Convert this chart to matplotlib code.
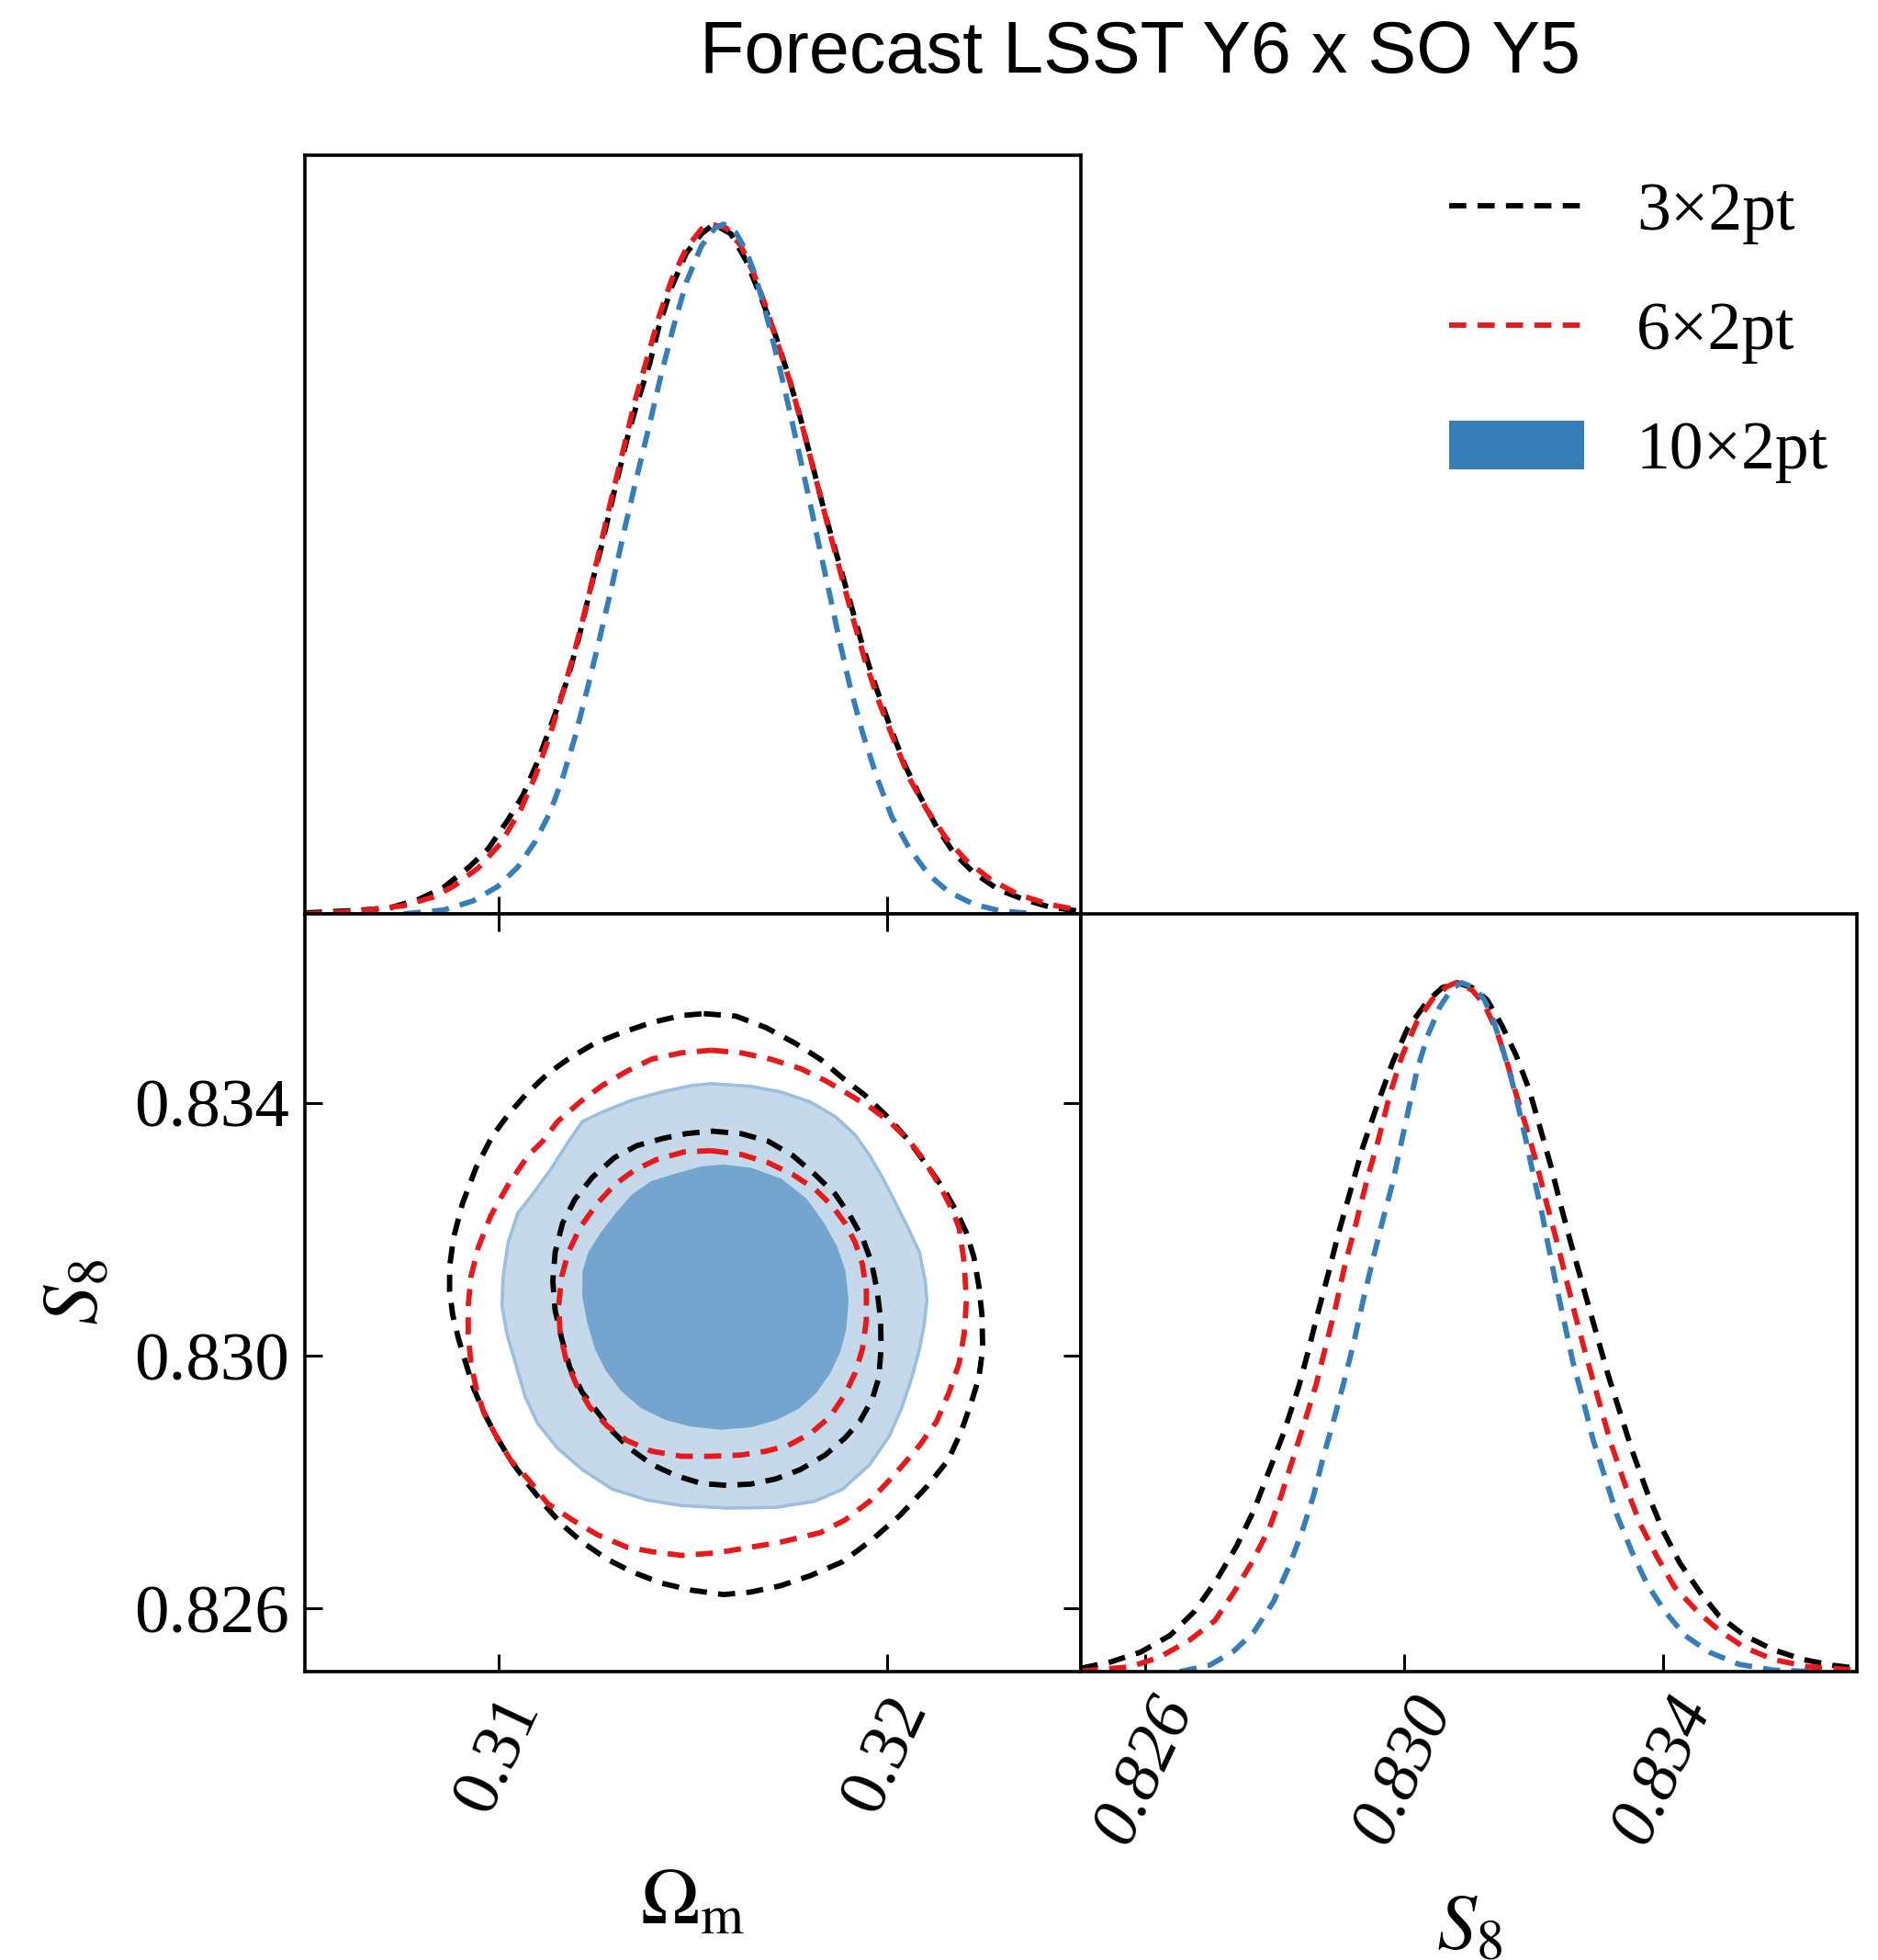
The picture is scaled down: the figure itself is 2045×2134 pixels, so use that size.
import numpy as np
import matplotlib
matplotlib.use("Agg")
import matplotlib.pyplot as plt
from matplotlib.lines import Line2D
from matplotlib.patches import Patch

plt.rcParams['font.family'] = ['Liberation Serif', 'DejaVu Serif']
plt.rcParams['mathtext.fontset'] = 'stix'

labels = ['3×2pt', '6×2pt', '10×2pt']
colors = ['black', '#e41a1c', '#377eb8']

om_ticks = [0.31, 0.32]
s8_ticks = [0.826, 0.830, 0.834]
s8_ticklabels = ['0.826', '0.830', '0.834']

# ---- 1D marginal of Omega_m (peak normalised to 1)
om_3x2_x = [0.30500, 0.30628, 0.30717, 0.30794, 0.30858, 0.30921, 0.30973, 0.31024, 0.31062, 0.31100,
            0.31139, 0.31177, 0.31209, 0.31234, 0.31266, 0.31298, 0.31330, 0.31356, 0.31388, 0.31413,
            0.31445, 0.31483, 0.31522, 0.31554, 0.31598, 0.31637, 0.31675, 0.31713, 0.31745, 0.31777,
            0.31809, 0.31841, 0.31873, 0.31905, 0.31937, 0.31969, 0.32007, 0.32045, 0.32084, 0.32128,
            0.32173, 0.32224, 0.32288, 0.32352, 0.32416, 0.32500]
om_3x2_p = [0.0014, 0.0049, 0.0084, 0.0211, 0.0386, 0.0667, 0.0947, 0.1368, 0.1719, 0.2211,
            0.2807, 0.3404, 0.4070, 0.4667, 0.5368, 0.6140, 0.6877, 0.7404, 0.7965, 0.8526,
            0.9088, 0.9579, 0.9860, 1.0000, 0.9860, 0.9474, 0.8947, 0.8386, 0.7825, 0.7193,
            0.6491, 0.5789, 0.5158, 0.4526, 0.3895, 0.3333, 0.2737, 0.2175, 0.1719, 0.1263,
            0.0877, 0.0596, 0.0351, 0.0211, 0.0105, 0.0035]

om_6x2_x = [0.30500, 0.30628, 0.30755, 0.30832, 0.30883, 0.30947, 0.31004, 0.31056, 0.31094, 0.31132,
            0.31164, 0.31196, 0.31228, 0.31260, 0.31292, 0.31324, 0.31349, 0.31381, 0.31413, 0.31445,
            0.31483, 0.31522, 0.31547, 0.31586, 0.31624, 0.31656, 0.31688, 0.31720, 0.31752, 0.31783,
            0.31815, 0.31847, 0.31879, 0.31911, 0.31943, 0.31981, 0.32020, 0.32058, 0.32103, 0.32154,
            0.32205, 0.32269, 0.32339, 0.32416, 0.32500]
om_6x2_p = [0.0000, 0.0035, 0.0119, 0.0246, 0.0400, 0.0667, 0.1018, 0.1509, 0.2000, 0.2596,
            0.3193, 0.3825, 0.4526, 0.5298, 0.6070, 0.6807, 0.7404, 0.8035, 0.8667, 0.9193,
            0.9649, 0.9930, 1.0000, 0.9944, 0.9684, 0.9298, 0.8807, 0.8246, 0.7684, 0.7053,
            0.6351, 0.5649, 0.4982, 0.4316, 0.3684, 0.3053, 0.2491, 0.1965, 0.1509, 0.1088,
            0.0772, 0.0491, 0.0281, 0.0140, 0.0049]

om_10x2_x = [0.30755, 0.30858, 0.30934, 0.30998, 0.31049, 0.31094, 0.31132, 0.31164, 0.31196, 0.31228,
             0.31260, 0.31292, 0.31324, 0.31353, 0.31385, 0.31417, 0.31449, 0.31483, 0.31522, 0.31557,
             0.31579, 0.31611, 0.31637, 0.31656, 0.31675, 0.31700, 0.31726, 0.31752, 0.31777, 0.31803,
             0.31828, 0.31854, 0.31879, 0.31905, 0.31937, 0.31975, 0.32013, 0.32058, 0.32109, 0.32160,
             0.32224, 0.32288, 0.32365]
om_10x2_p = [0.0000, 0.0056, 0.0189, 0.0400, 0.0681, 0.1053, 0.1474, 0.1965, 0.2561, 0.3263,
             0.4000, 0.4772, 0.5579, 0.6281, 0.7018, 0.7789, 0.8491, 0.9158, 0.9684, 0.9944,
             1.0000, 0.9874, 0.9614, 0.9333, 0.8982, 0.8456, 0.7860, 0.7228, 0.6596, 0.5930,
             0.5263, 0.4596, 0.3930, 0.3298, 0.2632, 0.1965, 0.1404, 0.0947, 0.0561, 0.0316,
             0.0140, 0.0049, 0.0007]

# ---- 1D marginal of S8
s8_3x2_x = [0.82500, 0.82546, 0.82592, 0.82638, 0.82676, 0.82710, 0.82741, 0.82768, 0.82791, 0.82814,
            0.82837, 0.82852, 0.82867, 0.82883, 0.82898, 0.82917, 0.82936, 0.82959, 0.82982, 0.83005,
            0.83036, 0.83059, 0.83082, 0.83105, 0.83128, 0.83151, 0.83173, 0.83193, 0.83208, 0.83227,
            0.83242, 0.83258, 0.83277, 0.83296, 0.83315, 0.83334, 0.83353, 0.83376, 0.83399, 0.83426,
            0.83457, 0.83487, 0.83526, 0.83571, 0.83617, 0.83663, 0.83700]
s8_3x2_p = [0.0049, 0.0140, 0.0281, 0.0526, 0.0877, 0.1333, 0.1825, 0.2351, 0.2912, 0.3474,
            0.4140, 0.4667, 0.5228, 0.5789, 0.6351, 0.6982, 0.7614, 0.8246, 0.8842, 0.9333,
            0.9733, 0.9930, 1.0000, 0.9930, 0.9754, 0.9382, 0.8947, 0.8456, 0.7965, 0.7333,
            0.6772, 0.6211, 0.5579, 0.4947, 0.4316, 0.3754, 0.3193, 0.2596, 0.2070, 0.1579,
            0.1158, 0.0807, 0.0526, 0.0316, 0.0175, 0.0091, 0.0049]

s8_6x2_x = [0.82500, 0.82577, 0.82622, 0.82668, 0.82707, 0.82737, 0.82764, 0.82791, 0.82810, 0.82829,
            0.82848, 0.82864, 0.82879, 0.82894, 0.82909, 0.82925, 0.82944, 0.82959, 0.82978, 0.82997,
            0.83020, 0.83043, 0.83066, 0.83080, 0.83105, 0.83124, 0.83143, 0.83158, 0.83173, 0.83189,
            0.83204, 0.83219, 0.83235, 0.83250, 0.83265, 0.83281, 0.83300, 0.83319, 0.83342, 0.83365,
            0.83392, 0.83418, 0.83453, 0.83487, 0.83526, 0.83571, 0.83625, 0.83700]
s8_6x2_p = [0.0007, 0.0070, 0.0211, 0.0456, 0.0737, 0.1158, 0.1579, 0.2070, 0.2561, 0.3123,
            0.3684, 0.4175, 0.4737, 0.5298, 0.5930, 0.6491, 0.7193, 0.7684, 0.8386, 0.8947,
            0.9439, 0.9754, 0.9944, 1.0000, 0.9895, 0.9684, 0.9298, 0.8877, 0.8386, 0.7895,
            0.7404, 0.6842, 0.6281, 0.5719, 0.5158, 0.4596, 0.3965, 0.3333, 0.2702, 0.2140,
            0.1649, 0.1228, 0.0877, 0.0596, 0.0351, 0.0175, 0.0070, 0.0021]

s8_10x2_x = [0.82653, 0.82699, 0.82737, 0.82768, 0.82798, 0.82821, 0.82841, 0.82860, 0.82875, 0.82890,
             0.82906, 0.82921, 0.82936, 0.82952, 0.82967, 0.82981, 0.82994, 0.83007, 0.83020, 0.83036,
             0.83055, 0.83074, 0.83089, 0.83108, 0.83124, 0.83139, 0.83154, 0.83166, 0.83177, 0.83189,
             0.83200, 0.83212, 0.83223, 0.83235, 0.83248, 0.83261, 0.83277, 0.83292, 0.83311, 0.83330,
             0.83353, 0.83376, 0.83403, 0.83434, 0.83472, 0.83518, 0.83571, 0.83633]
s8_10x2_p = [0.0000, 0.0091, 0.0302, 0.0582, 0.1018, 0.1509, 0.2000, 0.2561, 0.3123, 0.3614,
             0.4175, 0.4737, 0.5368, 0.6000, 0.6561, 0.7053, 0.7614, 0.8175, 0.8737, 0.9228,
             0.9649, 0.9916, 1.0000, 0.9930, 0.9754, 0.9425, 0.8982, 0.8596, 0.8175, 0.7684,
             0.7193, 0.6702, 0.6175, 0.5614, 0.5053, 0.4491, 0.3930, 0.3368, 0.2807, 0.2246,
             0.1719, 0.1263, 0.0877, 0.0526, 0.0281, 0.0105, 0.0021, 0.0000]

# ---- 2D contours (Omega_m, S8), 68% and 95% levels
c3x2_95_om = [0.31528, 0.31611, 0.31688, 0.31764, 0.31828, 0.31886, 0.31943, 0.32001, 0.32052, 0.32103,
              0.32147, 0.32179, 0.32205, 0.32224, 0.32237, 0.32245, 0.32247, 0.32237, 0.32218, 0.32192,
              0.32158, 0.32103, 0.32033, 0.31962, 0.31886, 0.31803, 0.31726, 0.31649, 0.31579, 0.31496,
              0.31420, 0.31343, 0.31279, 0.31215, 0.31164, 0.31119, 0.31075, 0.31030, 0.30992, 0.30960,
              0.30934, 0.30915, 0.30896, 0.30881, 0.30873, 0.30873, 0.30883, 0.30906, 0.30941, 0.30983,
              0.31024, 0.31068, 0.31126, 0.31183, 0.31247, 0.31317, 0.31394, 0.31471]
c3x2_95_s8 = [0.83542, 0.83538, 0.83520, 0.83495, 0.83470, 0.83440, 0.83413, 0.83379, 0.83344, 0.83302,
              0.83264, 0.83229, 0.83195, 0.83157, 0.83111, 0.83065, 0.83011, 0.82965, 0.82927, 0.82881,
              0.82835, 0.82793, 0.82747, 0.82709, 0.82674, 0.82652, 0.82636, 0.82626, 0.82622, 0.82629,
              0.82640, 0.82658, 0.82678, 0.82705, 0.82732, 0.82763, 0.82797, 0.82835, 0.82874, 0.82912,
              0.82950, 0.82988, 0.83027, 0.83065, 0.83103, 0.83141, 0.83187, 0.83241, 0.83298, 0.83348,
              0.83382, 0.83413, 0.83447, 0.83472, 0.83495, 0.83512, 0.83528, 0.83539]

c3x2_68_om = [0.31547, 0.31624, 0.31694, 0.31758, 0.31815, 0.31867, 0.31905, 0.31937, 0.31960, 0.31975,
              0.31984, 0.31985, 0.31979, 0.31962, 0.31930, 0.31892, 0.31841, 0.31777, 0.31713, 0.31649,
              0.31586, 0.31522, 0.31458, 0.31394, 0.31336, 0.31292, 0.31253, 0.31215, 0.31183, 0.31162,
              0.31145, 0.31139, 0.31145, 0.31164, 0.31196, 0.31241, 0.31298, 0.31356, 0.31420, 0.31483]
c3x2_68_s8 = [0.83356, 0.83352, 0.83340, 0.83317, 0.83287, 0.83256, 0.83222, 0.83187, 0.83149, 0.83103,
              0.83057, 0.83011, 0.82965, 0.82931, 0.82896, 0.82870, 0.82843, 0.82820, 0.82805, 0.82797,
              0.82795, 0.82798, 0.82810, 0.82828, 0.82854, 0.82881, 0.82912, 0.82942, 0.82981, 0.83027,
              0.83072, 0.83118, 0.83164, 0.83210, 0.83248, 0.83283, 0.83314, 0.83333, 0.83344, 0.83352]

c6x2_95_om = [0.31547, 0.31624, 0.31700, 0.31777, 0.31841, 0.31905, 0.31956, 0.32007, 0.32058, 0.32096,
              0.32135, 0.32167, 0.32186, 0.32199, 0.32205, 0.32199, 0.32186, 0.32160, 0.32128, 0.32084,
              0.32020, 0.31956, 0.31892, 0.31828, 0.31726, 0.31649, 0.31560, 0.31471, 0.31394, 0.31330,
              0.31253, 0.31190, 0.31126, 0.31075, 0.31030, 0.30992, 0.30960, 0.30941, 0.30928, 0.30921,
              0.30921, 0.30928, 0.30947, 0.30979, 0.31024, 0.31075, 0.31113, 0.31151, 0.31209, 0.31266,
              0.31330, 0.31394, 0.31471]
c6x2_95_s8 = [0.83484, 0.83480, 0.83470, 0.83455, 0.83436, 0.83413, 0.83394, 0.83371, 0.83340, 0.83310,
              0.83271, 0.83233, 0.83203, 0.83149, 0.83088, 0.83034, 0.82988, 0.82942, 0.82896, 0.82858,
              0.82812, 0.82770, 0.82740, 0.82720, 0.82705, 0.82697, 0.82688, 0.82684, 0.82690, 0.82697,
              0.82717, 0.82740, 0.82766, 0.82805, 0.82835, 0.82874, 0.82912, 0.82950, 0.82988, 0.83034,
              0.83080, 0.83126, 0.83172, 0.83222, 0.83271, 0.83317, 0.83340, 0.83371, 0.83402, 0.83428,
              0.83451, 0.83470, 0.83480]

c6x2_68_om = [0.31547, 0.31624, 0.31694, 0.31758, 0.31815, 0.31860, 0.31892, 0.31918, 0.31937, 0.31947,
              0.31947, 0.31937, 0.31918, 0.31892, 0.31854, 0.31803, 0.31745, 0.31688, 0.31624, 0.31547,
              0.31471, 0.31394, 0.31330, 0.31279, 0.31234, 0.31200, 0.31174, 0.31158, 0.31154, 0.31162,
              0.31179, 0.31209, 0.31253, 0.31298, 0.31349, 0.31407, 0.31477]
c6x2_68_s8 = [0.83325, 0.83319, 0.83306, 0.83287, 0.83264, 0.83237, 0.83210, 0.83180, 0.83145, 0.83103,
              0.83057, 0.83011, 0.82973, 0.82939, 0.82904, 0.82877, 0.82858, 0.82849, 0.82843, 0.82841,
              0.82841, 0.82849, 0.82866, 0.82889, 0.82919, 0.82954, 0.82992, 0.83034, 0.83080, 0.83126,
              0.83164, 0.83203, 0.83241, 0.83271, 0.83294, 0.83311, 0.83323]

c10x2_95_om = [0.31547, 0.31649, 0.31726, 0.31803, 0.31867, 0.31918, 0.31956, 0.31988, 0.32020, 0.32052,
               0.32084, 0.32099, 0.32103, 0.32096, 0.32084, 0.32064, 0.32039, 0.32007, 0.31956, 0.31886,
               0.31815, 0.31713, 0.31586, 0.31471, 0.31381, 0.31292, 0.31215, 0.31151, 0.31100, 0.31068,
               0.31043, 0.31021, 0.31008, 0.31011, 0.31024, 0.31049, 0.31087, 0.31132, 0.31177, 0.31215,
               0.31266, 0.31343, 0.31420, 0.31496]
c10x2_95_s8 = [0.83431, 0.83427, 0.83418, 0.83402, 0.83379, 0.83350, 0.83317, 0.83283, 0.83245, 0.83206,
               0.83164, 0.83118, 0.83088, 0.83049, 0.83011, 0.82965, 0.82919, 0.82874, 0.82828, 0.82789,
               0.82770, 0.82760, 0.82759, 0.82763, 0.82772, 0.82789, 0.82820, 0.82854, 0.82893, 0.82935,
               0.82988, 0.83034, 0.83080, 0.83126, 0.83180, 0.83226, 0.83256, 0.83294, 0.83337, 0.83371,
               0.83386, 0.83405, 0.83418, 0.83428]

c10x2_68_om = [0.31579, 0.31649, 0.31726, 0.31790, 0.31835, 0.31869, 0.31890, 0.31898, 0.31892, 0.31877,
               0.31851, 0.31815, 0.31771, 0.31713, 0.31649, 0.31573, 0.31496, 0.31432, 0.31368, 0.31317,
               0.31279, 0.31251, 0.31231, 0.31218, 0.31219, 0.31234, 0.31266, 0.31305, 0.31345, 0.31394,
               0.31458, 0.31522]
c10x2_68_s8 = [0.83301, 0.83296, 0.83279, 0.83248, 0.83210, 0.83172, 0.83134, 0.83088, 0.83042, 0.83007,
               0.82973, 0.82942, 0.82918, 0.82900, 0.82889, 0.82885, 0.82890, 0.82900, 0.82919, 0.82946,
               0.82977, 0.83011, 0.83053, 0.83095, 0.83134, 0.83164, 0.83195, 0.83226, 0.83254, 0.83275,
               0.83287, 0.83298]


def closed(a):
    return list(a) + [a[0]]


lw = 2.1
dash = (0, (3.2, 2.1))
spine_w = 1.3
fs_tick = 27
fs_lab = 31
fs_leg = 26.5

fig = plt.figure(figsize=(10.225, 10.67), dpi=200)
ax_om = fig.add_axes([0.16235, 0.53374, 0.41320, 0.38707])
ax_2d = fig.add_axes([0.16235, 0.14714, 0.41320, 0.38660])
ax_s8 = fig.add_axes([0.57555, 0.14714, 0.41320, 0.38660])

# top-left: Omega_m marginal
ax_om.plot(om_3x2_x, om_3x2_p, ls=dash, color=colors[0], lw=lw)
ax_om.plot(om_6x2_x, om_6x2_p, ls=dash, color=colors[1], lw=lw)
ax_om.plot(om_10x2_x, om_10x2_p, ls=dash, color=colors[2], lw=lw)
ax_om.set_xlim(0.305, 0.325)
ax_om.set_ylim(0, 1.1)
ax_om.set_xticks(om_ticks)
ax_om.set_yticks([])
ax_om.tick_params(axis='x', direction='in', length=6.8, width=1.1, labelbottom=False)

# bottom-left: 2D contours
ax_2d.fill(c10x2_95_om, c10x2_95_s8, color='#c6d9eb', zorder=1)
ax_2d.plot(closed(c10x2_95_om), closed(c10x2_95_s8), color='#9dbfdd', lw=1.3, zorder=1.5)
ax_2d.fill(c10x2_68_om, c10x2_68_s8, color='#74a5cf', zorder=2)
ax_2d.plot(closed(c3x2_95_om), closed(c3x2_95_s8), ls=dash, color=colors[0], lw=lw, zorder=3)
ax_2d.plot(closed(c3x2_68_om), closed(c3x2_68_s8), ls=dash, color=colors[0], lw=lw, zorder=3)
ax_2d.plot(closed(c6x2_95_om), closed(c6x2_95_s8), ls=dash, color=colors[1], lw=lw, zorder=4)
ax_2d.plot(closed(c6x2_68_om), closed(c6x2_68_s8), ls=dash, color=colors[1], lw=lw, zorder=4)
ax_2d.set_xlim(0.305, 0.325)
ax_2d.set_ylim(0.825, 0.837)
ax_2d.set_xticks(om_ticks)
ax_2d.set_xticklabels(['0.31', '0.32'])
ax_2d.set_yticks(s8_ticks)
ax_2d.set_yticklabels(s8_ticklabels)
ax_2d.tick_params(direction='in', length=6.8, width=1.1, top=True, right=True, labelsize=fs_tick)
ax_2d.tick_params(axis='x', labelrotation=65, pad=6)
ax_2d.tick_params(axis='y', pad=6)
ax_2d.set_xlabel(r'$\Omega_{\rm m}$', fontsize=fs_lab)
ax_2d.xaxis.set_label_coords(0.5, -0.258)
ax_2d.set_ylabel(r'$S_8$', fontsize=fs_lab)
ax_2d.yaxis.set_label_coords(-0.245, 0.5)

# bottom-right: S8 marginal
ax_s8.plot(s8_3x2_x, s8_3x2_p, ls=dash, color=colors[0], lw=lw)
ax_s8.plot(s8_6x2_x, s8_6x2_p, ls=dash, color=colors[1], lw=lw)
ax_s8.plot(s8_10x2_x, s8_10x2_p, ls=dash, color=colors[2], lw=lw)
ax_s8.set_xlim(0.825, 0.837)
ax_s8.set_ylim(0, 1.1)
ax_s8.set_xticks(s8_ticks)
ax_s8.set_xticklabels(s8_ticklabels, fontstyle='italic')
ax_s8.set_yticks([])
ax_s8.tick_params(axis='x', direction='in', length=6.8, width=1.1, labelsize=fs_tick,
                  labelrotation=65, pad=6)
ax_s8.set_xlabel(r'$S_8$', fontsize=fs_lab)
ax_s8.xaxis.set_label_coords(0.5, -0.293)

for ax in (ax_om, ax_2d, ax_s8):
    for sp in ax.spines.values():
        sp.set_linewidth(spine_w)

fig.text(0.6069, 0.963, 'Forecast LSST Y6 x SO Y5', ha='center', va='baseline',
         fontsize=28.5, family='Liberation Sans')

handles = [Line2D([], [], ls=dash, color=colors[0], lw=lw),
           Line2D([], [], ls=dash, color=colors[1], lw=lw),
           Patch(facecolor=colors[2], edgecolor='none')]
fig.legend(handles, labels, loc='upper left', bbox_to_anchor=(0.7716, 0.9075),
           frameon=False, fontsize=fs_leg, handlelength=2.0, handleheight=0.74,
           handletextpad=0.77, labelspacing=0.84, borderpad=0, borderaxespad=0)

fig.savefig('out.png', dpi=200)
